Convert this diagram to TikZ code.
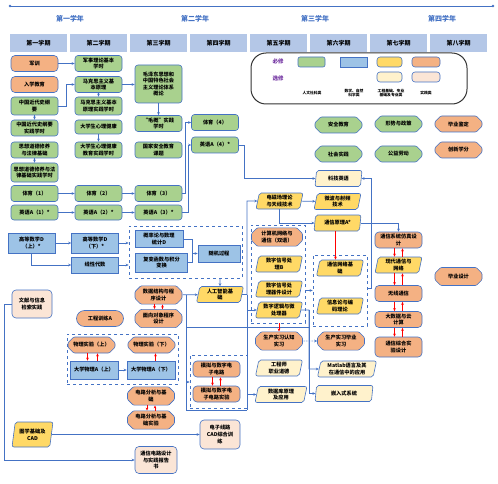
\documentclass[tikz,border=0pt]{standalone}
\usepackage{fontspec}
\newfontfamily\cjk{Noto Sans CJK SC}
\usetikzlibrary{arrows.meta,shapes.geometric,shapes.misc}
\definecolor{bline}{HTML}{4472C4}
\definecolor{gfill}{HTML}{A9D18E}
\definecolor{bfill}{HTML}{9DC3E6}
\definecolor{yfill}{HTML}{FFD966}
\definecolor{ofill}{HTML}{F4B183}
\definecolor{lyfill}{HTML}{FFF2CC}
\definecolor{pfill}{HTML}{FBE5D6}
\definecolor{hfill}{HTML}{B4C7E7}
\definecolor{legtxt}{HTML}{7030A0}
\tikzset{
  course/.style={draw=bline, line width=0.6pt, align=center, inner sep=0.5pt,
    font=\cjk\bfseries\fontsize{5.2}{6.6}\selectfont, minimum width=47pt, minimum height=16pt},
  gbox/.style={course, fill=gfill, rounded corners=3pt},
  gcut/.style={course, fill=gfill, chamfered rectangle, rounded corners=1pt},
  bbox/.style={course, fill=bfill},
  ypar/.style={course, fill=yfill, trapezium, trapezium left angle=75,
    trapezium right angle=105, trapezium stretches body, rounded corners=2pt},
  lypar/.style={ypar, fill=lyfill},
  obox/.style={course, fill=ofill, rounded corners=4pt},
  ocut/.style={course, fill=ofill, chamfered rectangle, rounded corners=1pt},
  pbox/.style={course, fill=pfill, rounded corners=4pt},
  semhd/.style={fill=hfill, minimum width=57pt, minimum height=18pt,
    font=\cjk\bfseries\fontsize{6}{7}\selectfont},
  yrlab/.style={text=bline, font=\cjk\bfseries\fontsize{7}{8}\selectfont},
  swatch/.style={draw=bline, line width=0.6pt, minimum width=27pt, minimum height=10pt, inner sep=0pt},
  lgnote/.style={align=center, font=\cjk\bfseries\fontsize{3.8}{4.6}\selectfont, inner sep=0pt},
  dbox/.style={draw=bline, dashed, line width=0.6pt, inner sep=0pt},
  wire/.style={draw=bline, line width=0.6pt},
  link/.style={wire, -{Stealth[length=3pt,width=2.6pt]}},
  rlink/.style={draw=red, line width=0.6pt, -{Stealth[length=3pt,width=2.6pt]}},
}
\begin{document}
\begin{tikzpicture}[x=1pt, y=-1pt]
  \useasboundingbox (0,0) rectangle (498,484);
  \coordinate (tl) at (10,6);
  \coordinate (tr) at (493,6);
  \draw[bline, line width=0.8pt] (tl) -- (tr);
  \fill[bline] (tl) circle (1.3pt) (tr) circle (1.3pt);
  \foreach \x/\t in {70/第一学年,195/第二学年,315/第三学年,442/第四学年}
    \node[yrlab] (yr\x) at (\x,19) {\t};
  \foreach \i/\t in {0/第一学期,1/第二学期,2/第三学期,3/第四学期,4/第五学期,5/第六学期,6/第七学期,7/第八学期}
    \node[semhd] (sem\i) at ({38.5+60*\i},43) {\t};

  \node[draw=black!80, line width=1pt, rounded corners=15pt, minimum width=216pt, minimum height=51pt] (legend) at (359,78.5) {};
  \node[text=legtxt, font=\cjk\bfseries\fontsize{5.5}{6}\selectfont] (lgbx) at (278,61) {必修};
  \node[text=legtxt, font=\cjk\bfseries\fontsize{5.5}{6}\selectfont] (lgxx) at (278,78) {选修};
  \node[swatch, fill=gfill, rounded corners=2pt] (sw1) at (311.5,62) {};
  \node[swatch, fill=bfill] (sw2) at (353.5,62.5) {};
  \node[swatch, fill=yfill, rounded corners=3pt, minimum width=25pt] (sw3) at (389.5,62) {};
  \node[swatch, fill=ofill, rounded corners=3pt, minimum width=28pt] (sw4) at (426,62) {};
  \node[swatch, fill=lyfill, rounded corners=3pt, minimum width=25pt] (sw5) at (389.5,77) {};
  \node[swatch, fill=pfill, rounded corners=3pt, minimum width=28pt] (sw6) at (426,77) {};
  \node[lgnote] (ln1) at (312,93) {人文社科类};
  \node[lgnote] (ln2) at (354,93) {数学、自然\\科学类};
  \node[lgnote] (ln3) at (391,93) {工程基础、专业\\基础及专业类};
  \node[lgnote] (ln4) at (426,93.5) {实践类};

  \node[dbox, minimum width=113pt, minimum height=52pt] (pb) at (185.5,252) {};
  \node[dbox, minimum width=111pt, minimum height=50pt] (wlb) at (122.5,359) {};
  \node[dbox, minimum width=57pt, minimum height=53pt] (mnb) at (218.5,381.5) {};
  \node[dbox, minimum width=54pt, minimum height=98pt] (xhb) at (278,274) {};
  \node[dbox, minimum width=54pt, minimum height=71pt] (twb) at (340,290.5) {};

  \node[obox] (jx) at (34.5,63.5) {军训};
  \node[obox] (rx) at (34.5,84.5) {入学教育};
  \node[gbox, minimum height=18pt] (jds) at (34.5,106) {中国近代史纲\\要};
  \node[gbox] (jdsp) at (34.5,128) {中国近代史纲要\\实践学时};
  \node[gbox] (sx) at (34.5,150) {思想道德修养\\与法律基础};
  \node[gbox, minimum height=19pt] (sxp) at (34.5,172.5) {思想道德修养与法\\律基础实践学时};
  \foreach \i/\x in {1/34.5,2/98.5,3/158.5} {
    \node[gbox] (ty\i) at (\x,193.5) {体育（\i）};
    \node[gbox, minimum height=15pt] (en\i) at (\x,212.5) {英语A（\i）*};
  }
  \node[bbox, minimum height=20pt] (gs1) at (31.5,243) {高等数学D\\（上）*};
  \node[pbox, minimum width=40pt, minimum height=28pt] (wx) at (32,304) {文献与信息\\检索实践};
  \node[ypar, minimum width=41pt, minimum height=25pt] (tx) at (32.5,434.5) {图学基础及\\CAD};

  \node[gbox] (js) at (98.5,63.5) {军事理论基本\\学时};
  \node[gbox] (mk) at (98.5,84.5) {马克思主义基\\本原理};
  \node[gbox, minimum height=18pt] (mkp) at (98.5,106) {马克思主义基本\\原理实践学时};
  \node[gbox, minimum height=14pt] (xl) at (98.5,127) {大学生心理健康};
  \node[gbox] (xlp) at (98.5,150) {大学生心理健康\\教育实践学时};
  \node[bbox, minimum height=20pt] (gs2) at (95,243) {高等数学D\\（下）*};
  \node[bbox] (xd) at (95,265) {线性代数};
  \node[obox, rounded corners=8pt] (gc) at (100,318.5) {工程训练A};

  \node[gbox, minimum height=38pt] (mg) at (158.5,84) {毛泽东思想和\\中国特色社会\\主义理论体系\\概论};
  \node[gbox] (mgp) at (158.5,123.5) {“毛概”实践\\学时};
  \node[gbox] (gf) at (158.5,150) {国家安全教育\\课题};
  \node[bbox, minimum width=48pt, minimum height=17pt] (gl) at (159,239) {概率论与数理\\统计D};
  \node[bbox, minimum width=52pt, minimum height=19pt] (fb) at (161.5,262.5) {复变函数与积分\\变换};
  \node[bbox, minimum width=42pt, minimum height=17pt] (sj) at (219,253.5) {随机过程};
  \node[ocut] (ds) at (158.5,295) {数据结构与程\\序设计};
  \node[ocut] (sk) at (158.5,318.5) {面向对象程序\\设计};
  \node[ocut] (ph1) at (91.5,345) {物理实验（上）};
  \node[ocut] (ph2) at (151.5,345) {物理实验（下）};
  \node[bbox, minimum width=48pt, minimum height=18pt] (dw1) at (94,370) {大学物理A（上）};
  \node[bbox, minimum width=48pt, minimum height=18pt] (dw2) at (151,370) {大学物理A（下）};
  \node[ocut] (dl) at (151,396) {电路分析与基\\础};
  \node[ocut] (dlp) at (151,420) {电路分析与基\\础实验};
  \node[pbox, minimum width=42pt, minimum height=27pt] (tk) at (156,460) {通信电路设计\\与实践报告\\书};

  \node[gbox] (ty4) at (215,122.5) {体育（4）};
  \node[gbox] (en4) at (215,145) {英语A（4）*};
  \node[ypar] (rg) at (220,294.5) {人工智能基\\础};
  \node[obox] (mn) at (216.5,369) {模拟与数字电\\子电路};
  \node[obox] (mnp) at (216.5,394) {模拟与数字电\\子电路实验};
  \node[pbox, minimum width=40pt, minimum height=29pt] (cad) at (220,434.5) {电子线路\\CAD综合训\\练};

  \node[ypar] (dc) at (279.5,201) {电磁场理论\\与天线技术};
  \node[ocut, minimum width=51pt] (jw) at (277,237) {计算机网络与\\通信（双语）};
  \node[ypar] (sx1) at (279,264) {数字信号处\\理B};
  \node[ypar] (sx2) at (279,289) {数字信号处\\理器件设计};
  \node[ypar] (sl) at (279,310) {数字逻辑与微\\处理器};
  \node[ocut] (rz) at (279,341) {生产实习认知\\实习};
  \node[lypar] (gcs) at (279,368) {工程师\\职业道德};
  \node[lypar, minimum width=52pt] (sjk) at (281,394.5) {数据库原理\\及应用};

  \node[gcut] (aq) at (338.5,125) {安全教育};
  \node[gcut] (sh) at (338.5,154) {社会实践};
  \node[lypar] (kj) at (338.5,178.5) {科技英语};
  \node[ypar] (wb) at (337.5,201.5) {微波与射频\\技术};
  \node[ypar] (tx1) at (337.5,223) {通信原理A*};
  \node[ypar] (tw) at (340,268) {通信网络基\\础};
  \node[ypar] (xb) at (340,306) {信息论与编\\码理论};
  \node[ocut] (by) at (341,341) {生产实习毕业\\实习};
  \node[lypar, minimum width=59pt] (ml) at (347,369) {Matlab语言及其\\在通信中的应用};
  \node[lypar, minimum width=58pt] (qr) at (344,393.5) {嵌入式系统};

  \node[gcut] (xs) at (398.5,124) {形势与政策};
  \node[gcut] (gy) at (398.5,154) {公益劳动};
  \node[obox] (fz) at (398.5,240) {通信系统仿真设\\计};
  \node[ypar] (xt) at (398.5,265) {现代通信与\\网络};
  \node[obox] (wx2) at (398.5,293.5) {无线通信};
  \node[obox] (dsj) at (398.5,319.5) {大数据与云\\计算};
  \node[obox, minimum height=20pt] (zh) at (398.5,347) {通信综合实\\验设计};

  \node[ocut] (bj) at (458.5,124) {毕业鉴定};
  \node[ocut] (cx) at (458.5,150) {创新学分};
  \node[ocut, minimum height=18pt] (bs) at (458.5,276.5) {毕业设计};

  \coordinate (jn) at (192,253.5);
  \coordinate (jt) at (186,295);
  \coordinate (jt2) at (186,327);
  \coordinate (jt3) at (186,382);
  \coordinate (jt4) at (186,410);
  \coordinate (jr) at (247,294.5);
  \coordinate (jq) at (247,410);
  \coordinate (jm) at (309,327);
  \coordinate (jm2) at (309,310);
  \coordinate (jk) at (371,288);

  \draw[link] (jx) -- (js);
  \draw[link] (jds.east) -- ++(8,0) |- (mk.west);
  \draw[link] (jds) -- (jdsp);
  \draw[link] (mk) -- (mkp);
  \draw[link] (mk.east) -- (mk.east -| mg.west);
  \draw[link] (mg) -- (mgp);
  \draw[link] (xl) -- (xlp);
  \draw[link] (sx) -- (sxp);
  \draw[link] (ty1) -- (ty2);
  \draw[link] (ty2) -- (ty3);
  \draw[link] (ty3.east) -- ++(3,0) |- (ty4.west);
  \draw[link] (en1) -- (en2);
  \draw[link] (en2) -- (en3);
  \draw[link] (en3.east) -- ++(6,0) |- (en4.west);
  \draw[link] (en4.east) -- ++(5,0) |- (kj.west);
  \draw[link] (gs1) -- (gs2);
  \draw[link] (gs1.south) |- (xd.west);
  \draw[link] (gs2.east) -- (gs2.east -| pb.west);
  \draw[link] (xd.east) -- (xd.east -| pb.west);
  \draw[wire] (gl.east) -| (jn);
  \draw[wire] (fb.east) -| (jn);
  \draw[link] (jn) -- (sj.west);
  \draw[link] (pb.south -| rg) -- (rg.north);
  \draw[link] (ds) -- (rg);
  \draw[wire] (jt) -- (jt4) -- (jq);
  \draw[link] (jt3) -- (jt3 -| mnb.west);
  \draw[wire] (jt2) -- (jm);
  \draw[link] (rg.east) -- (jr) |- (dc.west);
  \draw[link] (jr) |- (sl.west);
  \draw[wire] (jr) -- (jq);
  \draw[link] (jq) |- (sjk.west);
  \draw[link] (sl.east) -- (jm2) |- (ml.west);
  \draw[link] (jm2) |- (qr.west);
  \draw[link] (dw1) -- (dw2);
  \draw[link] (tx) -- (cad);
  \draw[link] (wx.west) -- ++(-7,0) |- (tk.west);
  \draw[link] (dc) -- (wb);
  \draw[link] (dc.south) |- (tx1.west);
  \draw[link] (tx1.east) -| (fz.north);
  \draw[link] (xhb.east |- twb.center) -- (twb.west);
  \draw[link] (twb.east |- jk) -- (jk) |- (kj.east);
  \draw[link, densely dotted] (rz) -- (by);

  \foreach \a/\b in {ds/sk,dl/dlp,mn/mnp,fz/xt,xt/wx2,wx2/dsj,dsj/zh} {
    \draw[rlink] ([xshift=-4pt]\a.south) -- ([xshift=-4pt]\a.south |- \b.north);
    \draw[rlink] ([xshift=4pt]\a.south |- \b.north) -- ([xshift=4pt]\a.south);
  }
  \draw[rlink] ([xshift=-4pt]ph1.south) -- ([xshift=-4pt]ph1.south |- dw1.north);
  \draw[rlink] ([xshift=6pt]ph1.south |- dw1.north) -- ([xshift=6pt]ph1.south);
  \draw[rlink] ([xshift=4pt]ph2.south |- dw2.north) -- ([xshift=4pt]ph2.south);
  \draw[rlink] ([xshift=-2pt]tx1.south) -- ([xshift=-2pt]tx1.south |- tw.north);
  \draw[rlink] (xhb.south -| rz) -- (rz.north);
\end{tikzpicture}
\end{document}
